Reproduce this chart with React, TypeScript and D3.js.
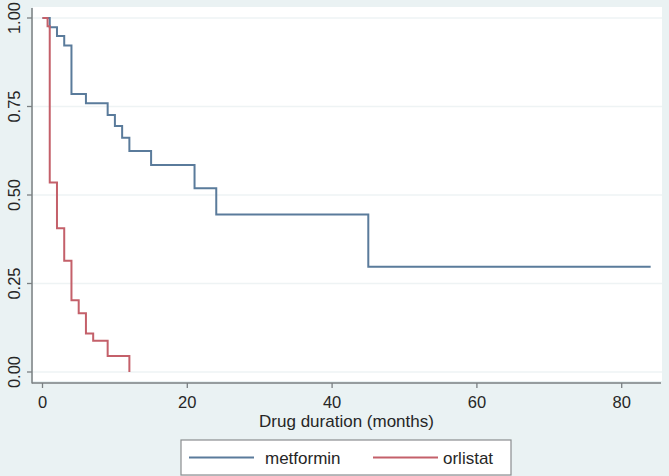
import React from "react";
import * as d3 from "d3";

const xTicks = [0, 20, 40, 60, 80];
const yTicks = [0, 0.25, 0.5, 0.75, 1];
const yTickLabels = ["0.00", "0.25", "0.50", "0.75", "1.00"];

const metforminTime = [0, 1, 2, 3, 4, 6, 9, 10, 11, 12, 15, 21, 24, 45, 84];
const metforminSurv = [1.0, 0.974, 0.949, 0.922, 0.785, 0.759, 0.726, 0.695, 0.662, 0.624, 0.585, 0.519, 0.445, 0.297, 0.297];

const orlistatTime = [0, 0.7, 1, 2, 3, 4, 5, 6, 7, 9, 12];
const orlistatSurv = [1.0, 0.977, 0.535, 0.406, 0.314, 0.203, 0.166, 0.109, 0.088, 0.045, 0.0];

const seriesNames = ["metformin", "orlistat"];
const seriesColors = ["#5a7b9b", "#c4606a"];

const W = 669;
const H = 476;

export default function App() {
  const x = d3.scaleLinear().domain([0, 80]).range([42.5, 621.7]);
  const y = d3.scaleLinear().domain([0, 1]).range([372, 18]);
  const line = d3
    .line<[number, number]>()
    .x((d) => x(d[0]))
    .y((d) => y(d[1]))
    .curve(d3.curveStepAfter);

  const met: [number, number][] = metforminTime.map((t, i) => [t, metforminSurv[i]]);
  const orl: [number, number][] = orlistatTime.map((t, i) => [t, orlistatSurv[i]]);
  const font = "Liberation Sans, Arial, Helvetica, sans-serif";
  const textColor = "#262626";
  const axisColor = "#7a7f82";
  const ts = { fontFamily: font } as React.CSSProperties;

  return (
    <svg
      width={W}
      height={H}
      style={{ position: "absolute", left: 0, top: 0, fontFamily: font }}
    >
      <rect x={0} y={0} width={W} height={H} fill="#eaf2f3" />
      <rect x={33} y={7} width={629} height={374} fill="#ffffff" />
      {yTicks.map((v) => (
        <line key={"g" + v} x1={33} x2={662} y1={y(v)} y2={y(v)} stroke="#eef3f4" strokeWidth={1.5} />
      ))}
      <line x1={32} x2={32} y1={8} y2={383.5} stroke={axisColor} strokeWidth={1.5} />
      <line x1={32} x2={661} y1={383} y2={383} stroke={axisColor} strokeWidth={1.5} />
      {yTicks.map((v, i) => (
        <g key={"y" + v}>
          <line x1={27} x2={32} y1={y(v)} y2={y(v)} stroke={axisColor} strokeWidth={1.3} />
          <text
            transform={`translate(20,${y(v)}) rotate(-90)`}
            textAnchor="middle"
            fontSize={16.5}
            fill={textColor}
            style={ts}
          >
            {yTickLabels[i]}
          </text>
        </g>
      ))}
      {xTicks.map((v) => (
        <g key={"x" + v}>
          <line x1={x(v)} x2={x(v)} y1={383} y2={388} stroke={axisColor} strokeWidth={1.3} />
          <text x={x(v)} y={407.5} textAnchor="middle" fontSize={16.5} fill={textColor} style={ts}>
            {v}
          </text>
        </g>
      ))}
      <text x={346.5} y={427} textAnchor="middle" fontSize={17} fill={textColor} style={ts}>
        Drug duration (months)
      </text>
      <path d={line(met) || ""} fill="none" stroke={seriesColors[0]} strokeWidth={2} />
      <path d={line(orl) || ""} fill="none" stroke={seriesColors[1]} strokeWidth={2} />
      <rect x={181} y={440} width={330} height={35} fill="#ffffff" stroke="#8a8d8f" strokeWidth={1.2} />
      <line x1={189} x2={254} y1={457.5} y2={457.5} stroke={seriesColors[0]} strokeWidth={2} />
      <text x={265} y={463.5} fontSize={17} fill={textColor} style={ts}>
        {seriesNames[0]}
      </text>
      <line x1={373} x2={438} y1={457.5} y2={457.5} stroke={seriesColors[1]} strokeWidth={2} />
      <text x={443} y={463.5} fontSize={17} fill={textColor} style={ts}>
        {seriesNames[1]}
      </text>
    </svg>
  );
}
